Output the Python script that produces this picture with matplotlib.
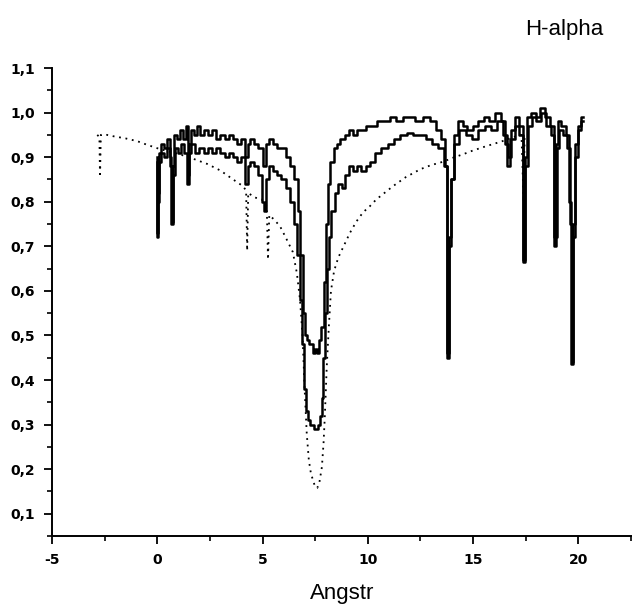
import numpy as np
import matplotlib
matplotlib.use("Agg")
from matplotlib import pyplot as plt
from matplotlib.ticker import MultipleLocator, FuncFormatter

# wavelength offset (Angstrom) and relative intensity
upper_x = [0.00, 0.02, 0.06, 0.12, 0.25, 0.40, 0.55, 0.65, 0.70, 0.76, 0.85, 1.00, 1.15, 1.30, 1.42,
           1.46, 1.52, 1.65, 1.80, 1.95, 2.10, 2.30, 2.50, 2.70, 2.90, 3.10, 3.30, 3.50, 3.70, 3.90,
           4.10, 4.25, 4.35, 4.50, 4.70, 4.90, 5.10, 5.25, 5.40, 5.60, 5.80, 6.00, 6.20, 6.40, 6.60,
           6.75, 6.85, 6.95, 7.05, 7.15, 7.30, 7.45, 7.55, 7.65, 7.75, 7.85, 7.95, 8.05, 8.15, 8.30,
           8.45, 8.60, 8.80, 9.00, 9.20, 9.40, 9.60, 9.80, 10.0, 10.3, 10.6, 10.9, 11.2, 11.5, 11.8,
           12.1, 12.4, 12.8, 13.1, 13.4, 13.6, 13.75, 13.82, 13.9, 14.0, 14.2, 14.4, 14.6, 14.85, 15.1,
           15.4, 15.65, 15.9, 16.2, 16.45, 16.6, 16.75, 16.9, 17.1, 17.3, 17.42, 17.52, 17.65, 17.85,
           18.1, 18.3, 18.55, 18.75, 18.9, 19.0, 19.1, 19.3, 19.5, 19.62, 19.7, 19.78, 19.9, 20.05, 20.2]
upper_y = [0.90, 0.72, 0.80, 0.91, 0.93, 0.92, 0.94, 0.90, 0.75, 0.88, 0.95, 0.94, 0.96, 0.94, 0.97,
           0.86, 0.93, 0.96, 0.95, 0.97, 0.95, 0.96, 0.95, 0.96, 0.94, 0.95, 0.94, 0.95, 0.94, 0.93,
           0.94, 0.90, 0.93, 0.94, 0.93, 0.92, 0.88, 0.93, 0.94, 0.93, 0.92, 0.92, 0.90, 0.88, 0.85,
           0.78, 0.68, 0.55, 0.50, 0.49, 0.48, 0.46, 0.47, 0.46, 0.49, 0.52, 0.62, 0.75, 0.84, 0.89,
           0.92, 0.93, 0.94, 0.95, 0.96, 0.95, 0.96, 0.96, 0.97, 0.97, 0.98, 0.98, 0.99, 0.98, 0.99,
           0.99, 0.98, 0.99, 0.98, 0.96, 0.94, 0.88, 0.45, 0.70, 0.85, 0.95, 0.98, 0.97, 0.96, 0.97,
           0.98, 0.99, 0.98, 1.00, 0.98, 0.93, 0.90, 0.96, 0.99, 0.97, 0.665, 0.90, 0.99, 1.00,
           0.99, 1.01, 0.99, 0.97, 0.70, 0.93, 0.98, 0.97, 0.95, 0.80, 0.435, 0.75, 0.93, 0.97, 0.99]

lower_x = [0.00, 0.02, 0.07, 0.12, 0.25, 0.40, 0.55, 0.65, 0.71, 0.78, 0.90, 1.05, 1.20, 1.35, 1.46,
           1.55, 1.70, 1.90, 2.10, 2.30, 2.50, 2.70, 2.90, 3.10, 3.30, 3.50, 3.70, 3.90, 4.10, 4.25,
           4.35, 4.50, 4.70, 4.90, 5.05, 5.12, 5.25, 5.40, 5.60, 5.80, 6.00, 6.20, 6.40, 6.55, 6.70,
           6.82, 6.92, 7.00, 7.10, 7.20, 7.35, 7.50, 7.60, 7.70, 7.78, 7.85, 7.92, 8.00, 8.10, 8.20,
           8.35, 8.50, 8.70, 8.85, 9.00, 9.20, 9.40, 9.60, 9.80, 10.0, 10.2, 10.5, 10.8, 11.1, 11.4,
           11.7, 12.0, 12.3, 12.6, 12.9, 13.2, 13.5, 13.7, 13.82, 13.9, 14.0, 14.2, 14.5, 14.8, 15.1,
           15.4, 15.7, 16.0, 16.3, 16.5, 16.7, 16.85, 17.1, 17.3, 17.43, 17.55, 17.7, 17.9, 18.1,
           18.35, 18.6, 18.8, 18.92, 19.02, 19.15, 19.35, 19.55, 19.65, 19.72, 19.8, 19.92, 20.05, 20.2]
lower_y = [0.89, 0.73, 0.82, 0.89, 0.91, 0.90, 0.92, 0.88, 0.755, 0.86, 0.92, 0.91, 0.93, 0.91, 0.84,
           0.91, 0.93, 0.91, 0.92, 0.91, 0.92, 0.91, 0.92, 0.91, 0.90, 0.91, 0.90, 0.89, 0.90, 0.84,
           0.88, 0.89, 0.88, 0.86, 0.80, 0.78, 0.85, 0.88, 0.87, 0.86, 0.85, 0.83, 0.80, 0.75, 0.68,
           0.58, 0.48, 0.38, 0.33, 0.31, 0.30, 0.29, 0.29, 0.30, 0.32, 0.36, 0.45, 0.55, 0.65, 0.72,
           0.78, 0.82, 0.84, 0.83, 0.86, 0.88, 0.87, 0.88, 0.87, 0.88, 0.89, 0.91, 0.92, 0.93, 0.94,
           0.95, 0.955, 0.95, 0.95, 0.94, 0.93, 0.92, 0.88, 0.46, 0.72, 0.85, 0.93, 0.96, 0.95, 0.94,
           0.96, 0.97, 0.96, 0.98, 0.95, 0.88, 0.94, 0.97, 0.95, 0.67, 0.88, 0.97, 0.99, 0.98,
           1.00, 0.97, 0.95, 0.72, 0.92, 0.96, 0.95, 0.92, 0.75, 0.44, 0.72, 0.90, 0.96, 0.98]

dotted_x = [-2.85, -2.75, -2.72, -2.68, -2.4, -2.1, -1.5, -0.96, -0.5, 0.13, 0.8, 1.5, 2.36, 3.0,
            3.6, 4.07, 4.22, 4.27, 4.32, 4.6, 4.97, 5.2, 5.26, 5.32, 5.55, 5.83, 6.1, 6.44, 6.63,
            6.78, 6.9, 7.0, 7.1, 7.2, 7.3, 7.4, 7.5, 7.6, 7.7, 7.82, 7.9, 7.96, 8.05, 8.15, 8.25,
            8.4, 8.6, 8.9, 9.15, 9.45, 9.77, 10.1, 10.4, 10.8, 11.2, 11.8, 12.5, 13.0, 13.6, 14.0,
            14.5, 15.0, 15.65, 16.0, 16.4, 16.9, 17.3, 17.4, 17.45]
dotted_y = [0.95, 0.945, 0.855, 0.95, 0.95, 0.947, 0.942, 0.936, 0.928, 0.918, 0.91, 0.90, 0.885, 0.87,
            0.85, 0.835, 0.825, 0.69, 0.82, 0.81, 0.805, 0.79, 0.67, 0.77, 0.76, 0.745, 0.72, 0.687, 0.64,
            0.58, 0.50, 0.38, 0.28, 0.22, 0.19, 0.175, 0.16, 0.158, 0.17, 0.205, 0.26, 0.32, 0.43, 0.52, 0.60,
            0.645, 0.675, 0.705, 0.73, 0.755, 0.776, 0.79, 0.805, 0.82, 0.835, 0.855, 0.873, 0.882, 0.89, 0.898,
            0.906, 0.915, 0.925, 0.93, 0.936, 0.945, 0.95, 0.80, 0.95]

fig = plt.figure(figsize=(6.32, 6.05), dpi=100)
ax = fig.add_axes([0.0823, 0.114, 0.9177, 0.7736])

ax.plot(upper_x, upper_y, color="black", lw=1.8, drawstyle="steps-mid")
ax.plot(lower_x, lower_y, color="black", lw=1.8, drawstyle="steps-mid")
ax.plot(dotted_x, dotted_y, color="black", lw=1.3, linestyle=(0, (1, 2.6)))

ax.set_xlim(-5, 22.55)
ax.set_ylim(0.05, 1.1)

ax.spines["top"].set_visible(False)
ax.spines["right"].set_visible(False)
ax.spines["left"].set_linewidth(1.4)
ax.spines["bottom"].set_linewidth(1.4)

ax.xaxis.set_major_locator(MultipleLocator(5))
ax.xaxis.set_minor_locator(MultipleLocator(2.5))
ax.set_yticks(np.arange(0.1, 1.11, 0.1))
ax.yaxis.set_minor_locator(MultipleLocator(0.05))
ax.xaxis.set_major_formatter(FuncFormatter(lambda v, p: f"{v:.0f}"))
# decimal comma as in the original
ax.yaxis.set_major_formatter(FuncFormatter(lambda v, p: f"{v:.1f}".replace(".", ",")))

ax.tick_params(which="major", direction="out", length=6, width=1.3, labelsize=10, pad=6)
ax.tick_params(which="minor", direction="out", length=3.5, width=1.2)
for lab in ax.get_xticklabels() + ax.get_yticklabels():
    lab.set_fontweight("bold")

ax.set_xlabel("Angstr", fontsize=16, family="Liberation Sans", labelpad=12)
fig.text(0.893, 0.952, "H-alpha", fontsize=16, family="Liberation Sans", ha="center", va="center")

fig.savefig("out.png", dpi=100)
